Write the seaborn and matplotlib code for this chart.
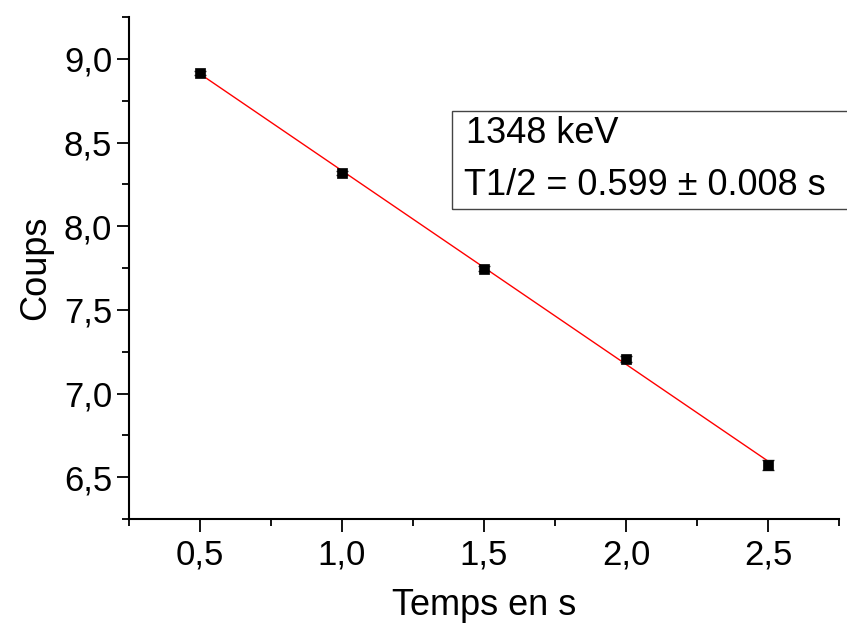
import matplotlib
matplotlib.use("Agg")
import matplotlib.pyplot as plt
import seaborn as sns
import pandas as pd
from matplotlib.ticker import AutoMinorLocator, FuncFormatter, MultipleLocator
from matplotlib.patches import Rectangle

# measured points
temps = [0.5, 1.0, 1.5, 2.0, 2.5]
coups = [8.915, 8.317, 7.747, 7.207, 6.572]
erreurs = [0.012, 0.012, 0.014, 0.016, 0.028]

# fitted line end points
fit_x = [0.5, 2.5]
fit_y = [8.91, 6.596]

box_lines = ["1348 keV", "T1/2 = 0.599 ± 0.008 s"]

df = pd.DataFrame({"temps": temps, "coups": coups})
df_fit = pd.DataFrame({"temps": fit_x, "coups": fit_y})

sns.set_style("ticks")
plt.rcParams["font.family"] = ["Liberation Sans", "DejaVu Sans"]
plt.rcParams["text.color"] = "black"
plt.rcParams["axes.labelcolor"] = "black"

fig = plt.figure(figsize=(8.47, 6.28), dpi=100)
ax = fig.add_axes([129 / 847, 1 - 519 / 628, 710 / 847, 502 / 628])

sns.lineplot(data=df_fit, x="temps", y="coups", color="red", linewidth=1.0, ax=ax)
ax.errorbar(temps, coups, yerr=erreurs, fmt="none", ecolor="#333333",
            elinewidth=1.0, capsize=4, capthick=1.0, zorder=3)
sns.scatterplot(data=df, x="temps", y="coups", marker="s", s=62, color="black",
                edgecolor="black", linewidth=0.5, zorder=4, ax=ax)

ax.set_xlim(0.25, 2.75)
ax.set_ylim(6.25, 9.25)
ax.xaxis.set_major_locator(MultipleLocator(0.5))
ax.yaxis.set_major_locator(MultipleLocator(0.5))
ax.xaxis.set_minor_locator(AutoMinorLocator(2))
ax.yaxis.set_minor_locator(AutoMinorLocator(2))
virgule = FuncFormatter(lambda v, p: f"{v:.1f}".replace(".", ","))
ax.xaxis.set_major_formatter(virgule)
ax.yaxis.set_major_formatter(virgule)

sns.despine(ax=ax)
for s in ["left", "bottom"]:
    ax.spines[s].set_linewidth(1.5)
    ax.spines[s].set_color("black")
ax.tick_params(which="major", length=9, width=1.3, labelsize=25, colors="black")
ax.tick_params(axis="y", which="major", pad=3)
ax.tick_params(axis="x", which="major", pad=5)
ax.tick_params(which="minor", length=5, width=1.3, colors="black")

ax.set_xlabel("Temps en s", fontsize=26, labelpad=12)
ax.set_ylabel("Coups", fontsize=26, labelpad=8)

# annotation box
fig.patches.append(Rectangle((452 / 847, 1 - 209 / 628), 420 / 847, 98 / 628,
                             transform=fig.transFigure, fill=False,
                             edgecolor="#444444", linewidth=1.0))
fig.text(466 / 847, 1 - 143 / 628, box_lines[0], fontsize=26, va="baseline")
fig.text(464 / 847, 1 - 195 / 628, box_lines[1], fontsize=26, va="baseline")

fig.savefig("out.png", dpi=100)
